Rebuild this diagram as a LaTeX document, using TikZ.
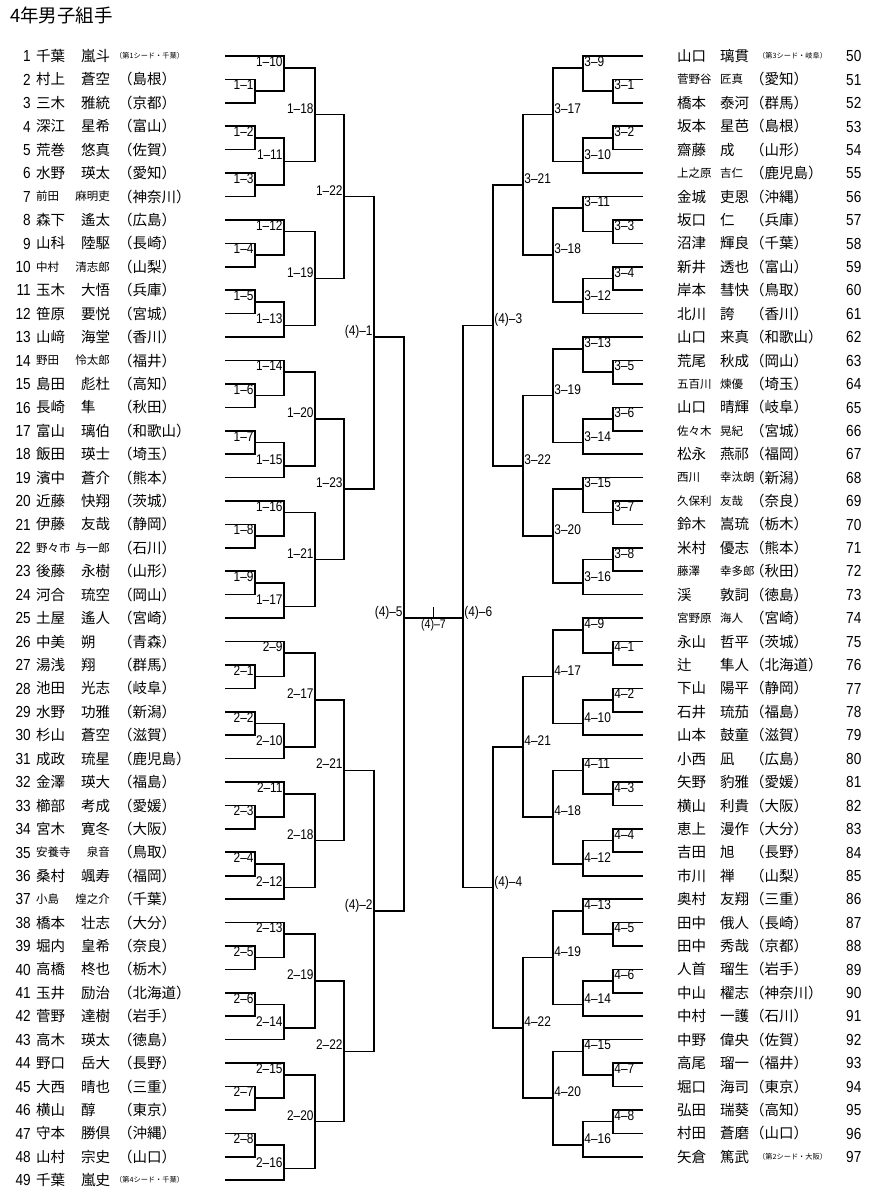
\documentclass[tikz,border=0pt]{standalone}
\usepackage{fontspec}
\setmainfont{Noto Sans CJK JP}
\newfontfamily\jpf{Noto Sans CJK JP}
\newfontfamily\numf[FakeStretch=0.85]{Liberation Sans}
\tikzset{
 br/.style={line width=1.6pt},
 nm/.style={font=\jpf\fontsize{14.5}{16}\selectfont, inner sep=0pt, text height=12.8pt, text depth=1.7pt},
 sm/.style={font=\jpf\fontsize{11.5}{13}\selectfont, inner sep=0pt, text height=10.1pt, text depth=1.4pt},
 seednote/.style={font=\jpf\fontsize{7.2}{8}\selectfont, inner sep=0pt, text height=6.3pt, text depth=0.9pt},
 pno/.style={font=\numf\fontsize{16}{18}\selectfont, inner sep=0pt, text height=11.5pt, text depth=0pt},
 lbl/.style={font=\numf\fontsize{14}{16}\selectfont, inner sep=1.2pt, text depth=0pt},
}
% left players
\newcommand\LP[4]{%
 \coordinate (p#1) at (225,#1);
 \node[pno, anchor=east] (pn#1) at (31,#1) {#1};
 \node[nm, anchor=west] (pf#1) at (36,#1) {#2};
 \node[nm, anchor=west] (pg#1) at (81,#1) {#3};
 \node[nm, anchor=west] (pp#1) at (118,#1) {（#4）};}
\newcommand\LPs[4]{%
 \coordinate (p#1) at (225,#1);
 \node[pno, anchor=east] (pn#1) at (31,#1) {#1};
 \node[sm, anchor=west] (pf#1) at (36,#1) {#2};
 \node[sm, anchor=east] (pg#1) at (110,#1) {#3};
 \node[nm, anchor=west] (pp#1) at (118,#1) {（#4）};}
\newcommand\LPseed[4]{%
 \coordinate (p#1) at (225,#1);
 \node[pno, anchor=east] (pn#1) at (31,#1) {#1};
 \node[nm, anchor=west] (pf#1) at (36,#1) {#2};
 \node[nm, anchor=west] (pg#1) at (81,#1) {#3};
 \node[seednote, anchor=west] (pp#1) at (115,#1) {#4};}
% right players
\newcommand\RP[5]{%
 \coordinate (q#1) at (643,#1);
 \node[nm, anchor=west] (qf#1) at (677,#1) {#3};
 \node[nm, anchor=west] (qg#1) at (720,#1) {#4};
 \node[nm, anchor=west] (qp#1) at (750,#1) {（#5）};
 \node[pno, anchor=west] (qn#1) at (846,#1) {#2};}
\newcommand\RPs[5]{%
 \coordinate (q#1) at (643,#1);
 \node[sm, anchor=west] (qf#1) at (677,#1) {#3};
 \node[sm, anchor=west] (qg#1) at (720,#1) {#4};
 \node[nm, anchor=west] (qp#1) at (750,#1) {（#5）};
 \node[pno, anchor=west] (qn#1) at (846,#1) {#2};}
\newcommand\RPseed[5]{%
 \coordinate (q#1) at (643,#1);
 \node[nm, anchor=west] (qf#1) at (677,#1) {#3};
 \node[nm, anchor=west] (qg#1) at (720,#1) {#4};
 \node[seednote, anchor=west] (qp#1) at (758,#1) {#5};
 \node[pno, anchor=west] (qn#1) at (846,#1) {#2};}
% matches
\newcommand\LM[6]{%
 \coordinate (#1) at (#2,#3);
 \draw[br] (#5) -- (#5 -| #1) -- (#6 -| #1) -- (#6);
 \node[lbl, anchor=south east] (#1t) at (#1) {#4};}
\newcommand\RM[6]{%
 \coordinate (#1) at (#2,#3);
 \draw[br] (#5) -- (#5 -| #1) -- (#6 -| #1) -- (#6);
 \node[lbl, anchor=south west] (#1t) at (#1) {#4};}
\begin{document}
\begin{tikzpicture}[x=1pt,y=-23.42pt]
\useasboundingbox (0,-1.391) rectangle (876,49.847);
\node[anchor=west, font=\jpf\fontsize{18.5}{20}\selectfont, inner sep=0pt, text height=16.3pt, text depth=2.2pt] (title) at (10,-0.75) {4年男子組手};
% ---------- left players
\LPseed{1}{千葉}{嵐斗}{（第1シード・千葉）}
\LP{2}{村上}{蒼空}{島根}
\LP{3}{三木}{雅統}{京都}
\LP{4}{深江}{星希}{富山}
\LP{5}{荒巻}{悠真}{佐賀}
\LP{6}{水野}{瑛太}{愛知}
\LPs{7}{前田}{麻明吏}{神奈川}
\LP{8}{森下}{遙太}{広島}
\LP{9}{山科}{陸駆}{長崎}
\LPs{10}{中村}{清志郎}{山梨}
\LP{11}{玉木}{大悟}{兵庫}
\LP{12}{笹原}{要悦}{宮城}
\LP{13}{山﨑}{海堂}{香川}
\LPs{14}{野田}{怜太郎}{福井}
\LP{15}{島田}{彪杜}{高知}
\LP{16}{長崎}{隼}{秋田}
\LP{17}{富山}{璃伯}{和歌山}
\LP{18}{飯田}{瑛士}{埼玉}
\LP{19}{濱中}{蒼介}{熊本}
\LP{20}{近藤}{快翔}{茨城}
\LP{21}{伊藤}{友哉}{静岡}
\LPs{22}{野々市}{与一郎}{石川}
\LP{23}{後藤}{永樹}{山形}
\LP{24}{河合}{琉空}{岡山}
\LP{25}{土屋}{遙人}{宮崎}
\LP{26}{中美}{朔}{青森}
\LP{27}{湯浅}{翔}{群馬}
\LP{28}{池田}{光志}{岐阜}
\LP{29}{水野}{功雅}{新潟}
\LP{30}{杉山}{蒼空}{滋賀}
\LP{31}{成政}{琉星}{鹿児島}
\LP{32}{金澤}{瑛大}{福島}
\LP{33}{櫛部}{考成}{愛媛}
\LP{34}{宮木}{寛冬}{大阪}
\LPs{35}{安養寺}{泉音}{鳥取}
\LP{36}{桑村}{颯寿}{福岡}
\LPs{37}{小島}{煌之介}{千葉}
\LP{38}{橋本}{壮志}{大分}
\LP{39}{堀内}{皇希}{奈良}
\LP{40}{高橋}{柊也}{栃木}
\LP{41}{玉井}{励治}{北海道}
\LP{42}{菅野}{達樹}{岩手}
\LP{43}{高木}{瑛太}{徳島}
\LP{44}{野口}{岳大}{長野}
\LP{45}{大西}{晴也}{三重}
\LP{46}{横山}{醇}{東京}
\LP{47}{守本}{勝倶}{沖縄}
\LP{48}{山村}{宗史}{山口}
\LPseed{49}{千葉}{嵐史}{（第4シード・千葉）}
% ---------- right players
\RPseed{1}{50}{山口}{璃貫}{（第3シード・岐阜）}
\RPs{2}{51}{菅野谷}{匠真}{愛知}
\RP{3}{52}{橋本}{泰河}{群馬}
\RP{4}{53}{坂本}{星芭}{島根}
\RP{5}{54}{齋藤}{成}{山形}
\RPs{6}{55}{上之原}{吉仁}{鹿児島}
\RP{7}{56}{金城}{吏恩}{沖縄}
\RP{8}{57}{坂口}{仁}{兵庫}
\RP{9}{58}{沼津}{輝良}{千葉}
\RP{10}{59}{新井}{透也}{富山}
\RP{11}{60}{岸本}{彗快}{鳥取}
\RP{12}{61}{北川}{誇}{香川}
\RP{13}{62}{山口}{来真}{和歌山}
\RP{14}{63}{荒尾}{秋成}{岡山}
\RPs{15}{64}{五百川}{煉優}{埼玉}
\RP{16}{65}{山口}{晴輝}{岐阜}
\RPs{17}{66}{佐々木}{晃紀}{宮城}
\RP{18}{67}{松永}{燕祁}{福岡}
\RPs{19}{68}{西川}{幸汰朗}{新潟}
\RPs{20}{69}{久保利}{友哉}{奈良}
\RP{21}{70}{鈴木}{嵩琉}{栃木}
\RP{22}{71}{米村}{優志}{熊本}
\RPs{23}{72}{藤澤}{幸多郎}{秋田}
\RP{24}{73}{渓}{敦詞}{徳島}
\RPs{25}{74}{宮野原}{海人}{宮崎}
\RP{26}{75}{永山}{哲平}{茨城}
\RP{27}{76}{辻}{隼人}{北海道}
\RP{28}{77}{下山}{陽平}{静岡}
\RP{29}{78}{石井}{琉茄}{福島}
\RP{30}{79}{山本}{鼓童}{滋賀}
\RP{31}{80}{小西}{凪}{広島}
\RP{32}{81}{矢野}{豹雅}{愛媛}
\RP{33}{82}{横山}{利貴}{大阪}
\RP{34}{83}{恵上}{漫作}{大分}
\RP{35}{84}{吉田}{旭}{長野}
\RP{36}{85}{市川}{禅}{山梨}
\RP{37}{86}{奥村}{友翔}{三重}
\RP{38}{87}{田中}{俄人}{長崎}
\RP{39}{88}{田中}{秀哉}{京都}
\RP{40}{89}{人首}{瑠生}{岩手}
\RP{41}{90}{中山}{櫂志}{神奈川}
\RP{42}{91}{中村}{一護}{石川}
\RP{43}{92}{中野}{偉央}{佐賀}
\RP{44}{93}{高尾}{瑠一}{福井}
\RP{45}{94}{堀口}{海司}{東京}
\RP{46}{95}{弘田}{瑞葵}{高知}
\RP{47}{96}{村田}{蒼磨}{山口}
\RPseed{48}{97}{矢倉}{篤武}{（第2シード・大阪）}
% ---------- block 1
\LM{a1-1}{255}{2.5}{1–1}{p2}{p3}
\LM{a1-2}{255}{4.5}{1–2}{p4}{p5}
\LM{a1-3}{255}{6.5}{1–3}{p6}{p7}
\LM{a1-4}{255}{9.5}{1–4}{p9}{p10}
\LM{a1-5}{255}{11.5}{1–5}{p11}{p12}
\LM{a1-6}{255}{15.5}{1–6}{p15}{p16}
\LM{a1-7}{255}{17.5}{1–7}{p17}{p18}
\LM{a1-8}{255}{21.5}{1–8}{p21}{p22}
\LM{a1-9}{255}{23.5}{1–9}{p23}{p24}
\LM{a1-10}{284}{1.5}{1–10}{p1}{a1-1}
\LM{a1-11}{284}{5.5}{1–11}{a1-2}{a1-3}
\LM{a1-12}{284}{8.5}{1–12}{p8}{a1-4}
\LM{a1-13}{284}{12.5}{1–13}{a1-5}{p13}
\LM{a1-14}{284}{14.5}{1–14}{p14}{a1-6}
\LM{a1-15}{284}{18.5}{1–15}{a1-7}{p19}
\LM{a1-16}{284}{20.5}{1–16}{p20}{a1-8}
\LM{a1-17}{284}{24.5}{1–17}{a1-9}{p25}
\LM{a1-18}{315}{3.5}{1–18}{a1-10}{a1-11}
\LM{a1-19}{315}{10.5}{1–19}{a1-12}{a1-13}
\LM{a1-20}{315}{16.5}{1–20}{a1-14}{a1-15}
\LM{a1-21}{315}{22.5}{1–21}{a1-16}{a1-17}
\LM{a1-22}{344}{7}{1–22}{a1-18}{a1-19}
\LM{a1-23}{344}{19.5}{1–23}{a1-20}{a1-21}
\LM{f1}{374}{13}{(4)–1}{a1-22}{a1-23}
% ---------- block 2
\LM{a2-1}{255}{27.5}{2–1}{p27}{p28}
\LM{a2-2}{255}{29.5}{2–2}{p29}{p30}
\LM{a2-3}{255}{33.5}{2–3}{p33}{p34}
\LM{a2-4}{255}{35.5}{2–4}{p35}{p36}
\LM{a2-5}{255}{39.5}{2–5}{p39}{p40}
\LM{a2-6}{255}{41.5}{2–6}{p41}{p42}
\LM{a2-7}{255}{45.5}{2–7}{p45}{p46}
\LM{a2-8}{255}{47.5}{2–8}{p47}{p48}
\LM{a2-9}{284}{26.5}{2–9}{p26}{a2-1}
\LM{a2-10}{284}{30.5}{2–10}{a2-2}{p31}
\LM{a2-11}{284}{32.5}{2–11}{p32}{a2-3}
\LM{a2-12}{284}{36.5}{2–12}{a2-4}{p37}
\LM{a2-13}{284}{38.5}{2–13}{p38}{a2-5}
\LM{a2-14}{284}{42.5}{2–14}{a2-6}{p43}
\LM{a2-15}{284}{44.5}{2–15}{p44}{a2-7}
\LM{a2-16}{284}{48.5}{2–16}{a2-8}{p49}
\LM{a2-17}{315}{28.5}{2–17}{a2-9}{a2-10}
\LM{a2-18}{315}{34.5}{2–18}{a2-11}{a2-12}
\LM{a2-19}{315}{40.5}{2–19}{a2-13}{a2-14}
\LM{a2-20}{315}{46.5}{2–20}{a2-15}{a2-16}
\LM{a2-21}{344}{31.5}{2–21}{a2-17}{a2-18}
\LM{a2-22}{344}{43.5}{2–22}{a2-19}{a2-20}
\LM{f2}{374}{37.5}{(4)–2}{a2-21}{a2-22}
\LM{f5}{404}{25}{(4)–5}{f1}{f2}
% ---------- block 3
\RM{b3-1}{613}{2.5}{3–1}{q2}{q3}
\RM{b3-2}{613}{4.5}{3–2}{q4}{q5}
\RM{b3-3}{613}{8.5}{3–3}{q8}{q9}
\RM{b3-4}{613}{10.5}{3–4}{q10}{q11}
\RM{b3-5}{613}{14.5}{3–5}{q14}{q15}
\RM{b3-6}{613}{16.5}{3–6}{q16}{q17}
\RM{b3-7}{613}{20.5}{3–7}{q20}{q21}
\RM{b3-8}{613}{22.5}{3–8}{q22}{q23}
\RM{b3-9}{583}{1.5}{3–9}{q1}{b3-1}
\RM{b3-10}{583}{5.5}{3–10}{b3-2}{q6}
\RM{b3-11}{583}{7.5}{3–11}{q7}{b3-3}
\RM{b3-12}{583}{11.5}{3–12}{b3-4}{q12}
\RM{b3-13}{583}{13.5}{3–13}{q13}{b3-5}
\RM{b3-14}{583}{17.5}{3–14}{b3-6}{q18}
\RM{b3-15}{583}{19.5}{3–15}{q19}{b3-7}
\RM{b3-16}{583}{23.5}{3–16}{b3-8}{q24}
\RM{b3-17}{553}{3.5}{3–17}{b3-9}{b3-10}
\RM{b3-18}{553}{9.5}{3–18}{b3-11}{b3-12}
\RM{b3-19}{553}{15.5}{3–19}{b3-13}{b3-14}
\RM{b3-20}{553}{21.5}{3–20}{b3-15}{b3-16}
\RM{b3-21}{523}{6.5}{3–21}{b3-17}{b3-18}
\RM{b3-22}{523}{18.5}{3–22}{b3-19}{b3-20}
\RM{f3}{493}{12.5}{(4)–3}{b3-21}{b3-22}
% ---------- block 4
\RM{b4-1}{613}{26.5}{4–1}{q26}{q27}
\RM{b4-2}{613}{28.5}{4–2}{q28}{q29}
\RM{b4-3}{613}{32.5}{4–3}{q32}{q33}
\RM{b4-4}{613}{34.5}{4–4}{q34}{q35}
\RM{b4-5}{613}{38.5}{4–5}{q38}{q39}
\RM{b4-6}{613}{40.5}{4–6}{q40}{q41}
\RM{b4-7}{613}{44.5}{4–7}{q44}{q45}
\RM{b4-8}{613}{46.5}{4–8}{q46}{q47}
\RM{b4-9}{583}{25.5}{4–9}{q25}{b4-1}
\RM{b4-10}{583}{29.5}{4–10}{b4-2}{q30}
\RM{b4-11}{583}{31.5}{4–11}{q31}{b4-3}
\RM{b4-12}{583}{35.5}{4–12}{b4-4}{q36}
\RM{b4-13}{583}{37.5}{4–13}{q37}{b4-5}
\RM{b4-14}{583}{41.5}{4–14}{b4-6}{q42}
\RM{b4-15}{583}{43.5}{4–15}{q43}{b4-7}
\RM{b4-16}{583}{47.5}{4–16}{b4-8}{q48}
\RM{b4-17}{553}{27.5}{4–17}{b4-9}{b4-10}
\RM{b4-18}{553}{33.5}{4–18}{b4-11}{b4-12}
\RM{b4-19}{553}{39.5}{4–19}{b4-13}{b4-14}
\RM{b4-20}{553}{45.5}{4–20}{b4-15}{b4-16}
\RM{b4-21}{523}{30.5}{4–21}{b4-17}{b4-18}
\RM{b4-22}{523}{42.5}{4–22}{b4-19}{b4-20}
\RM{f4}{493}{36.5}{(4)–4}{b4-21}{b4-22}
\RM{f6}{463}{25}{(4)–6}{f3}{f4}
% ---------- final
\draw[br] (f5) -- (f6);
\coordinate (f7) at (433.5,25);
\coordinate (f7top) at (433.5,24.53);
\draw[br] (f7) -- (f7top);
\node[lbl, font=\numf\fontsize{12.5}{14}\selectfont, anchor=north, inner sep=1.5pt] (f7t) at (f7) {(4)–7};
\end{tikzpicture}
\end{document}
